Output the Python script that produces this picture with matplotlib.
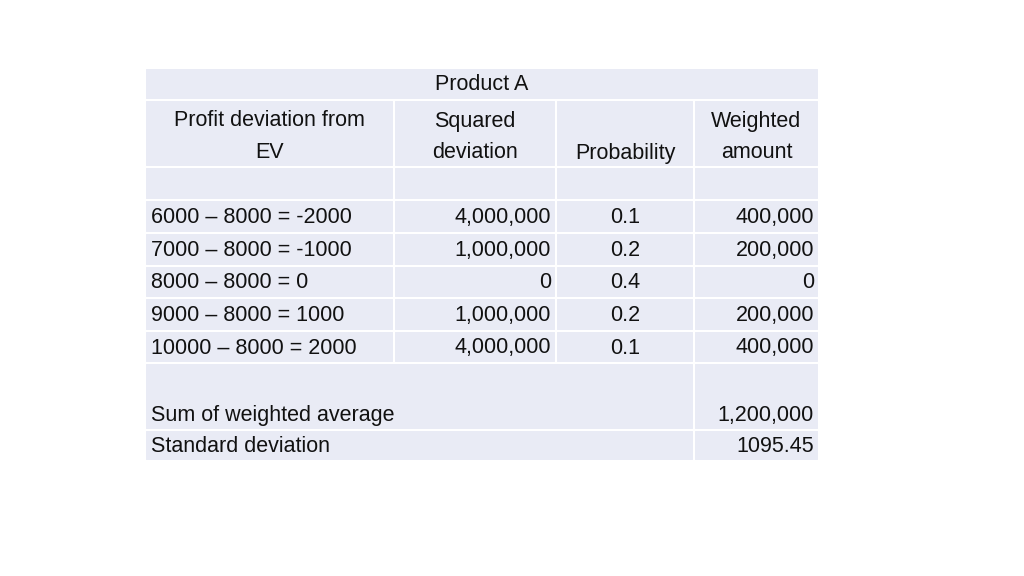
import matplotlib
matplotlib.use("Agg")
import matplotlib.pyplot as plt
from matplotlib.patches import Rectangle

title = "Product A"
headers = [("Profit deviation from", "EV"), ("Squared", "deviation"), ("", "Probability"), ("Weighted", "amount")]
deviations = ["6000 – 8000 = -2000", "7000 – 8000 = -1000", "8000 – 8000 = 0",
              "9000 – 8000 = 1000", "10000 – 8000 = 2000"]
squared = ["4,000,000", "1,000,000", "0", "1,000,000", "4,000,000"]
probability = ["0.1", "0.2", "0.4", "0.2", "0.1"]
weighted = ["400,000", "200,000", "0", "200,000", "400,000"]
summary_labels = ["Sum of weighted average", "Standard deviation"]
summary_values = ["1,200,000", "1095.45"]

fig = plt.figure(figsize=(10.24, 5.76), dpi=100)
ax = fig.add_axes([0, 0, 1, 1])
ax.set_xlim(0, 1024); ax.set_ylim(576, 0); ax.axis("off")

fill = "#E9EBF5"; line = "white"
cols = [145, 394, 556, 694, 819]
fs = 15.5; fam = "Liberation Sans"; tc = "#111111"

def cell(x0, x1, y0, y1):
    ax.add_patch(Rectangle((x0, y0), x1 - x0, y1 - y0, facecolor=fill, edgecolor=line, lw=1.5))

def t(x, y, s, ha):
    ax.text(x, y, s, ha=ha, va="center", fontsize=fs, family=fam, color=tc)

cell(cols[0], cols[4], 68, 100)
t((cols[0] + cols[4]) / 2, 85, title, "center")
for i in range(4):
    cell(cols[i], cols[i + 1], 100, 167)
    cx = (cols[i] + cols[i + 1]) / 2
    t(cx, 121, headers[i][0], "center")
    t(cx, 153, headers[i][1], "center")
for i in range(4):
    cell(cols[i], cols[i + 1], 167, 200)
rows = [200, 233, 266, 298, 331, 363]
for r in range(5):
    y0, y1 = rows[r], rows[r + 1]
    for i in range(4):
        cell(cols[i], cols[i + 1], y0, y1)
    yc = (y0 + y1) / 2 + 1
    t(cols[0] + 6, yc, deviations[r], "left")
    t(cols[2] - 5, yc, squared[r], "right")
    t((cols[2] + cols[3]) / 2, yc, probability[r], "center")
    t(cols[4] - 5, yc, weighted[r], "right")
srows = [(363, 430, 415), (430, 461, 447)]
for k, (y0, y1, yt) in enumerate(srows):
    cell(cols[0], cols[3], y0, y1)
    cell(cols[3], cols[4], y0, y1)
    t(cols[0] + 6, yt, summary_labels[k], "left")
    t(cols[4] - 5, yt, summary_values[k], "right")

fig.savefig("out.png", dpi=100, facecolor="white")
